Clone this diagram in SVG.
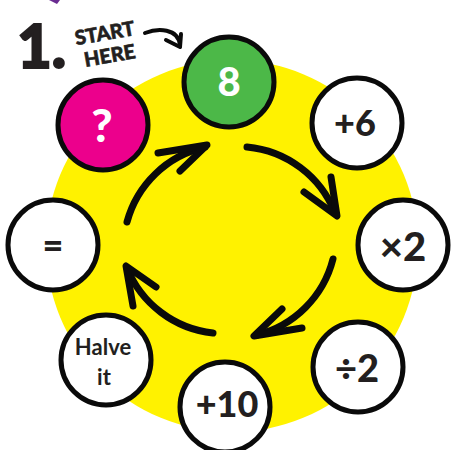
<svg xmlns="http://www.w3.org/2000/svg" width="451" height="450" viewBox="0 0 451 450">
<style>
.node{stroke:#0a0a0a;stroke-width:5}
.w{fill:#ffffff}
.t{font-family:Lato,"Open Sans","DejaVu Sans",sans-serif;font-weight:900;fill:#231f20;text-anchor:middle}
.arr{fill:none;stroke:#0a0a0a;stroke-width:7;stroke-linecap:round;stroke-linejoin:round}
</style>
<rect width="451" height="450" fill="#ffffff"/>
<polygon points="49,0 60,0 57,4" fill="#6a2c91"/>
<circle cx="232" cy="246" r="186" fill="#fff200"/>
<text x="17" y="68" font-family="Lato,'DejaVu Sans',sans-serif" font-weight="900" font-size="60" fill="#231f20" stroke="#231f20" stroke-width="2">1.</text>
<g transform="rotate(-10 107 46)">
<text x="107" y="40" class="t" font-size="20" stroke="#231f20" stroke-width="0.6">START</text>
<text x="108" y="63" class="t" font-size="20" stroke="#231f20" stroke-width="0.6">HERE</text>
</g>
<g id="connectors">
<path d="M145,33 C158,28 178,28 180,45" fill="none" stroke="#0a0a0a" stroke-width="4" stroke-linecap="round"/>
<path d="M166,40 L180,47 L181,34" fill="none" stroke="#0a0a0a" stroke-width="4" stroke-linecap="round" stroke-linejoin="round"/>
<path class="arr" d="M127,222 A105,105 0 0 1 205,147"/>
<path class="arr" d="M158,153 L207,145 L180,171"/>
<path class="arr" d="M247,147 A105,105 0 0 1 335,213"/>
<path class="arr" d="M304,192 L337,216 L331,177"/>
<path class="arr" d="M333,259 A105,105 0 0 1 257,335"/>
<path class="arr" d="M282,309 L254,336 L302,328"/>
<path class="arr" d="M213,333 A105,105 0 0 1 127,268"/>
<path class="arr" d="M156,287 L126,266 L133,306"/>
</g>
<g id="n-start"><circle class="node" cx="229" cy="82" r="45" fill="#4cb848"/><text x="229" y="96" class="t" font-size="40" style="fill:#ffffff">8</text></g>
<g id="n-plus6"><circle class="node w" cx="357" cy="123" r="45"/><text x="355" y="136" class="t" font-size="36">+6</text></g>
<g id="n-times2"><circle class="node w" cx="403" cy="245" r="45"/><text x="403" y="261" class="t" font-size="40">×2</text></g>
<g id="n-div2"><circle class="node w" cx="358" cy="367" r="45"/><text x="357" y="382" class="t" font-size="38">÷2</text></g>
<g id="n-plus10"><circle class="node w" cx="225" cy="407" r="45"/><text x="227" y="417" class="t" font-size="36">+10</text></g>
<g id="n-halve"><circle class="node w" cx="106" cy="360" r="45"/><text x="103" y="355" class="t" font-size="22" style="font-weight:700">Halve</text><text x="104" y="385" class="t" font-size="22" style="font-weight:700">it</text></g>
<g id="n-equals"><circle class="node w" cx="53" cy="245" r="45"/><text x="53" y="258" class="t" font-size="36">=</text></g>
<g id="n-answer"><circle class="node" cx="103" cy="125" r="45" fill="#ec008c"/><text x="102" y="142" class="t" font-size="46" style="fill:#ffffff">?</text></g>
</svg>
